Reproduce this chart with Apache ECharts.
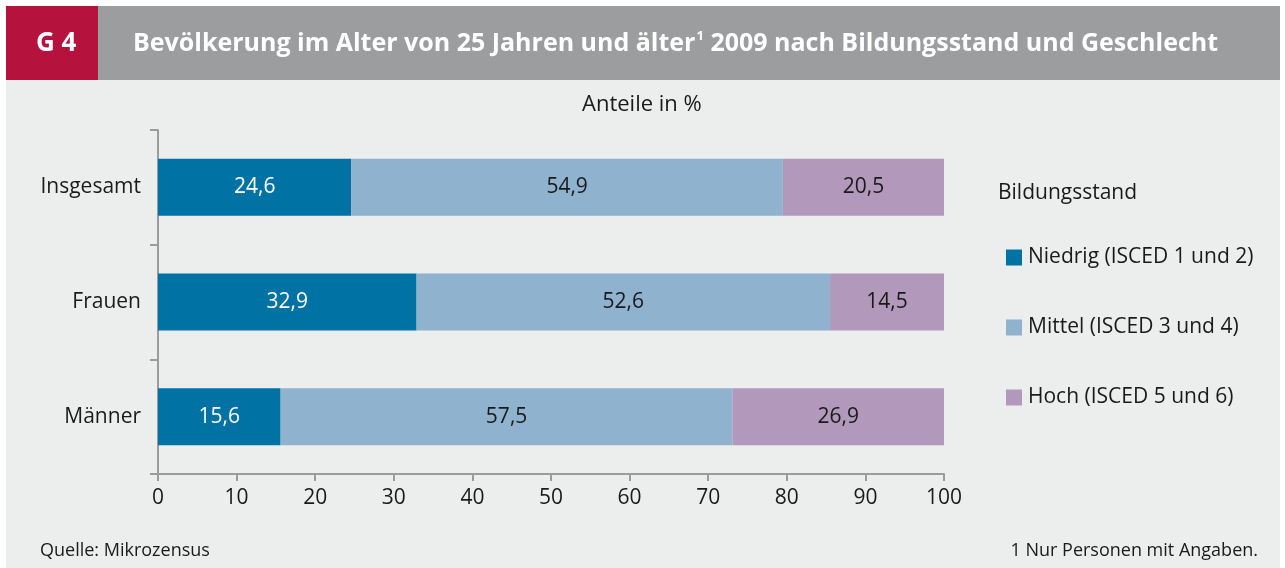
<!DOCTYPE html>
<html>
<head>
<meta charset="utf-8">
<script src="https://cdn.jsdelivr.net/npm/echarts@6/dist/echarts.min.js"></script>
<style>
  html, body { margin: 0; padding: 0; background: #ffffff; }
  #main { width: 1285px; height: 568px; }
</style>
</head>
<body>
<div id="main"></div>
<script>
// Daten
var categories = ['Insgesamt', 'Frauen', 'Männer'];
var niedrig = [24.6, 32.9, 15.6];
var mittel = [54.9, 52.6, 57.5];
var hoch = [20.5, 14.5, 26.9];
var seriesNames = ['Niedrig (ISCED 1 und 2)', 'Mittel (ISCED 3 und 4)', 'Hoch (ISCED 5 und 6)'];
var xTicks = [0, 10, 20, 30, 40, 50, 60, 70, 80, 90, 100];

var font = '"Open Sans", "Noto Sans", sans-serif';
var colors = ['#0072a4', '#8fb2cf', '#b298bb'];

function fmt(p) {
  return p.value.toFixed(1).replace('.', ',');
}

function bar(name, data, idx, labelColor) {
  return {
    name: name,
    type: 'bar',
    stack: 'total',
    barWidth: 57,
    data: data,
    itemStyle: { color: colors[idx] },
    label: {
      show: true,
      position: 'inside',
      formatter: fmt,
      color: labelColor,
      fontFamily: font,
      fontSize: 21
    },
    emphasis: { disabled: true }
  };
}

var chart = echarts.init(document.getElementById('main'));
chart.setOption({
  animation: false,
  backgroundColor: '#ffffff',
  textStyle: { fontFamily: font },
  graphic: [
    { type: 'rect', z: -10, shape: { x: 6, y: 80, width: 1274, height: 488 }, style: { fill: '#eceeed' } },
    { type: 'rect', shape: { x: 6, y: 6, width: 92, height: 74 }, style: { fill: '#b5123e' } },
    { type: 'rect', shape: { x: 98, y: 6, width: 1182, height: 74 }, style: { fill: '#9c9d9f' } },
    { type: 'text', left: 36, top: 31, style: { text: 'G 4', fill: '#ffffff', font: 'bold 26px ' + font } },
    {
      type: 'text', left: 133, top: 30,
      style: {
        text: '{t|Bevölkerung im Alter von 25 Jahren und älter}{s|1}{t| 2009 nach Bildungsstand und Geschlecht}',
        rich: {
          t: { fill: '#ffffff', fontFamily: font, fontWeight: 'bold', fontSize: 25, verticalAlign: 'bottom' },
          s: { fill: '#ffffff', fontFamily: font, fontWeight: 'bold', fontSize: 13, verticalAlign: 'top', padding: [0, 0, 13, 1] }
        }
      }
    },
    { type: 'text', left: 582, top: 94, style: { text: 'Anteile in %', fill: '#1a1a1a', font: '22px ' + font } },
    { type: 'text', left: 998, top: 183, style: { text: 'Bildungsstand', fill: '#1a1a1a', font: '21px ' + font } },
    { type: 'text', left: 40, top: 542, style: { text: 'Quelle: Mikrozensus', fill: '#1a1a1a', font: '18px ' + font } },
    { type: 'text', right: 27, top: 542, style: { text: '1 Nur Personen mit Angaben.', fill: '#1a1a1a', font: '18px ' + font } }
  ],
  legend: {
    orient: 'vertical',
    left: 1001,
    top: 242,
    itemWidth: 16,
    itemHeight: 16,
    itemGap: 49,
    icon: 'rect',
    data: seriesNames,
    selectedMode: false,
    textStyle: { color: '#1a1a1a', fontSize: 21, fontFamily: font, padding: [0, 0, 0, 1] }
  },
  grid: { left: 158, right: 341, top: 130, bottom: 94 },
  xAxis: {
    type: 'value',
    min: 0,
    max: 100,
    interval: 10,
    axisLine: { show: true, lineStyle: { color: '#9b9b9b', width: 2 } },
    axisTick: { show: true, length: 7, lineStyle: { color: '#9b9b9b', width: 2 } },
    splitLine: { show: false },
    axisLabel: {
      color: '#1a1a1a', fontSize: 21, fontFamily: font, margin: 14,
      formatter: function (v) { return xTicks.indexOf(v) >= 0 ? String(v) : ''; }
    }
  },
  yAxis: {
    type: 'category',
    inverse: true,
    data: categories,
    axisLine: { show: true, lineStyle: { color: '#9b9b9b', width: 2 } },
    axisTick: { show: true, length: 8, lineStyle: { color: '#9b9b9b', width: 2 } },
    axisLabel: { color: '#1a1a1a', fontSize: 21, fontFamily: font, margin: 17 }
  },
  series: [
    bar(seriesNames[0], niedrig, 0, '#ffffff'),
    bar(seriesNames[1], mittel, 1, '#1a1a1a'),
    bar(seriesNames[2], hoch, 2, '#1a1a1a')
  ]
});
</script>
</body>
</html>
